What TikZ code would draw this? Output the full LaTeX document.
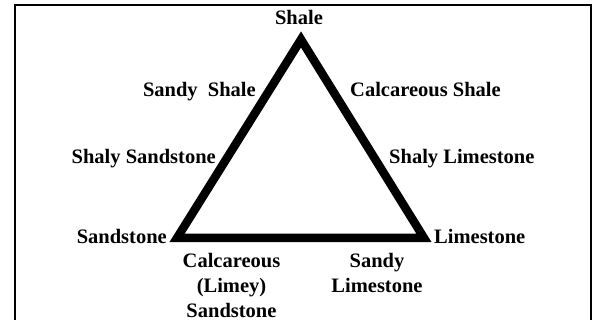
\documentclass[tikz,border=0pt]{standalone}
\usepackage{fontspec}
\setmainfont{Liberation Serif}
\begin{document}
\begin{tikzpicture}[x=1pt,y=1pt,
  lbl/.style={font=\fontsize{20.5}{25}\selectfont\bfseries, inner sep=0pt},
  tri/.style={line width=8.5pt, line join=miter},
  frame/.style={line width=2pt}]
\useasboundingbox (0,0) rectangle (596,320);

% outer frame, open at the bottom edge
\coordinate (fbl) at (15,-4);
\coordinate (ftl) at (15,315);
\coordinate (ftr) at (590.5,315);
\coordinate (fbr) at (590.5,-4);
\draw[frame] (fbl) -- (ftl) -- (ftr) -- (fbr);

% the triangle
\coordinate (top) at (301,280.5);
\coordinate (bl) at (177,82);
\coordinate (br) at (424,82);
\draw[tri] (top) -- (bl) -- (br) -- cycle;

% corner labels
\node[lbl, anchor=base] (shale) at (299,295) {Shale};
\node[lbl, anchor=base east] (sandstone) at (167,76) {Sandstone};
\node[lbl, anchor=base west] (limestone) at (434,76) {Limestone};

% left side
\node[lbl, anchor=base east] (sandyshale) at (256,223) {Sandy~~Shale};
\node[lbl, anchor=base east] (shalysand) at (216,156) {Shaly Sandstone};

% right side
\node[lbl, anchor=base west] (calcshale) at (350,223) {Calcareous Shale};
\node[lbl, anchor=base west] (shalylime) at (389,156) {Shaly Limestone};

% bottom side
\node[lbl, anchor=base] (calcsand) at (231.5,52)
  {\begin{tabular}[t]{@{}c@{}}Calcareous\\(Limey)\\Sandstone\end{tabular}};
\node[lbl, anchor=base] (sandylime) at (377,52)
  {\begin{tabular}[t]{@{}c@{}}Sandy\\Limestone\end{tabular}};
\end{tikzpicture}
\end{document}
